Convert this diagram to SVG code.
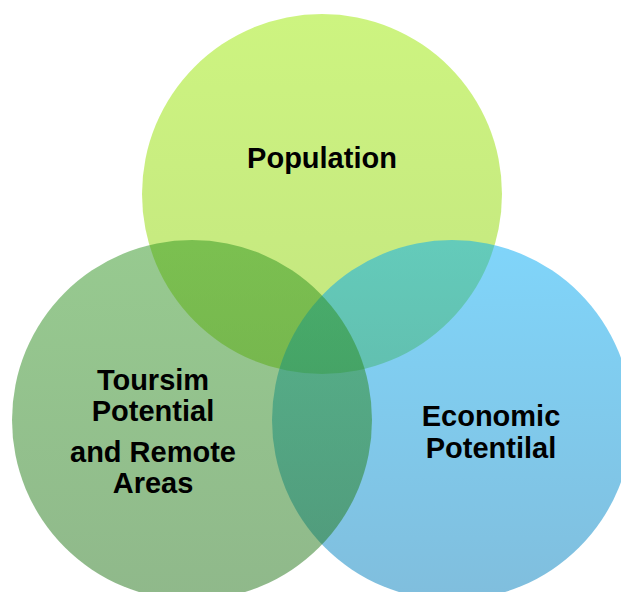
<svg xmlns="http://www.w3.org/2000/svg" width="621" height="592" viewBox="0 0 621 592">
<defs>
<linearGradient id="gTop" x1="0" y1="0" x2="0" y2="1"><stop offset="0" stop-color="#9BE900"/><stop offset="1" stop-color="#88CC00"/></linearGradient>
<linearGradient id="gLeft" x1="0" y1="0" x2="0" y2="1"><stop offset="0" stop-color="#2F9520"/><stop offset="1" stop-color="#207216"/></linearGradient>
<linearGradient id="gRight" x1="0" y1="0" x2="0" y2="1"><stop offset="0" stop-color="#00ABF5"/><stop offset="1" stop-color="#007DBB"/></linearGradient>
<style>
.c{opacity:0.5}
.t{font-family:"Liberation Sans",Arial,sans-serif;font-weight:bold;font-size:29px;fill:#000;text-anchor:middle}
</style>
</defs>
<rect width="621" height="592" fill="#fff"/>
<g id="population"><circle class="c" cx="322" cy="194" r="180" fill="url(#gTop)"/></g>
<g id="economic"><circle class="c" cx="452" cy="420" r="180" fill="url(#gRight)"/></g>
<g id="tourism"><circle class="c" cx="192" cy="420" r="180" fill="url(#gLeft)"/></g>
<g id="labels">
<text class="t" x="322" y="168">Population</text>
<text class="t" x="153" y="390">Toursim</text>
<text class="t" x="153" y="421">Potential</text>
<text class="t" x="153" y="462">and Remote</text>
<text class="t" x="153" y="493">Areas</text>
<text class="t" x="491" y="426">Economic</text>
<text class="t" x="491" y="458">Potentilal</text>
</g>
<g id="connectors"/>
</svg>
